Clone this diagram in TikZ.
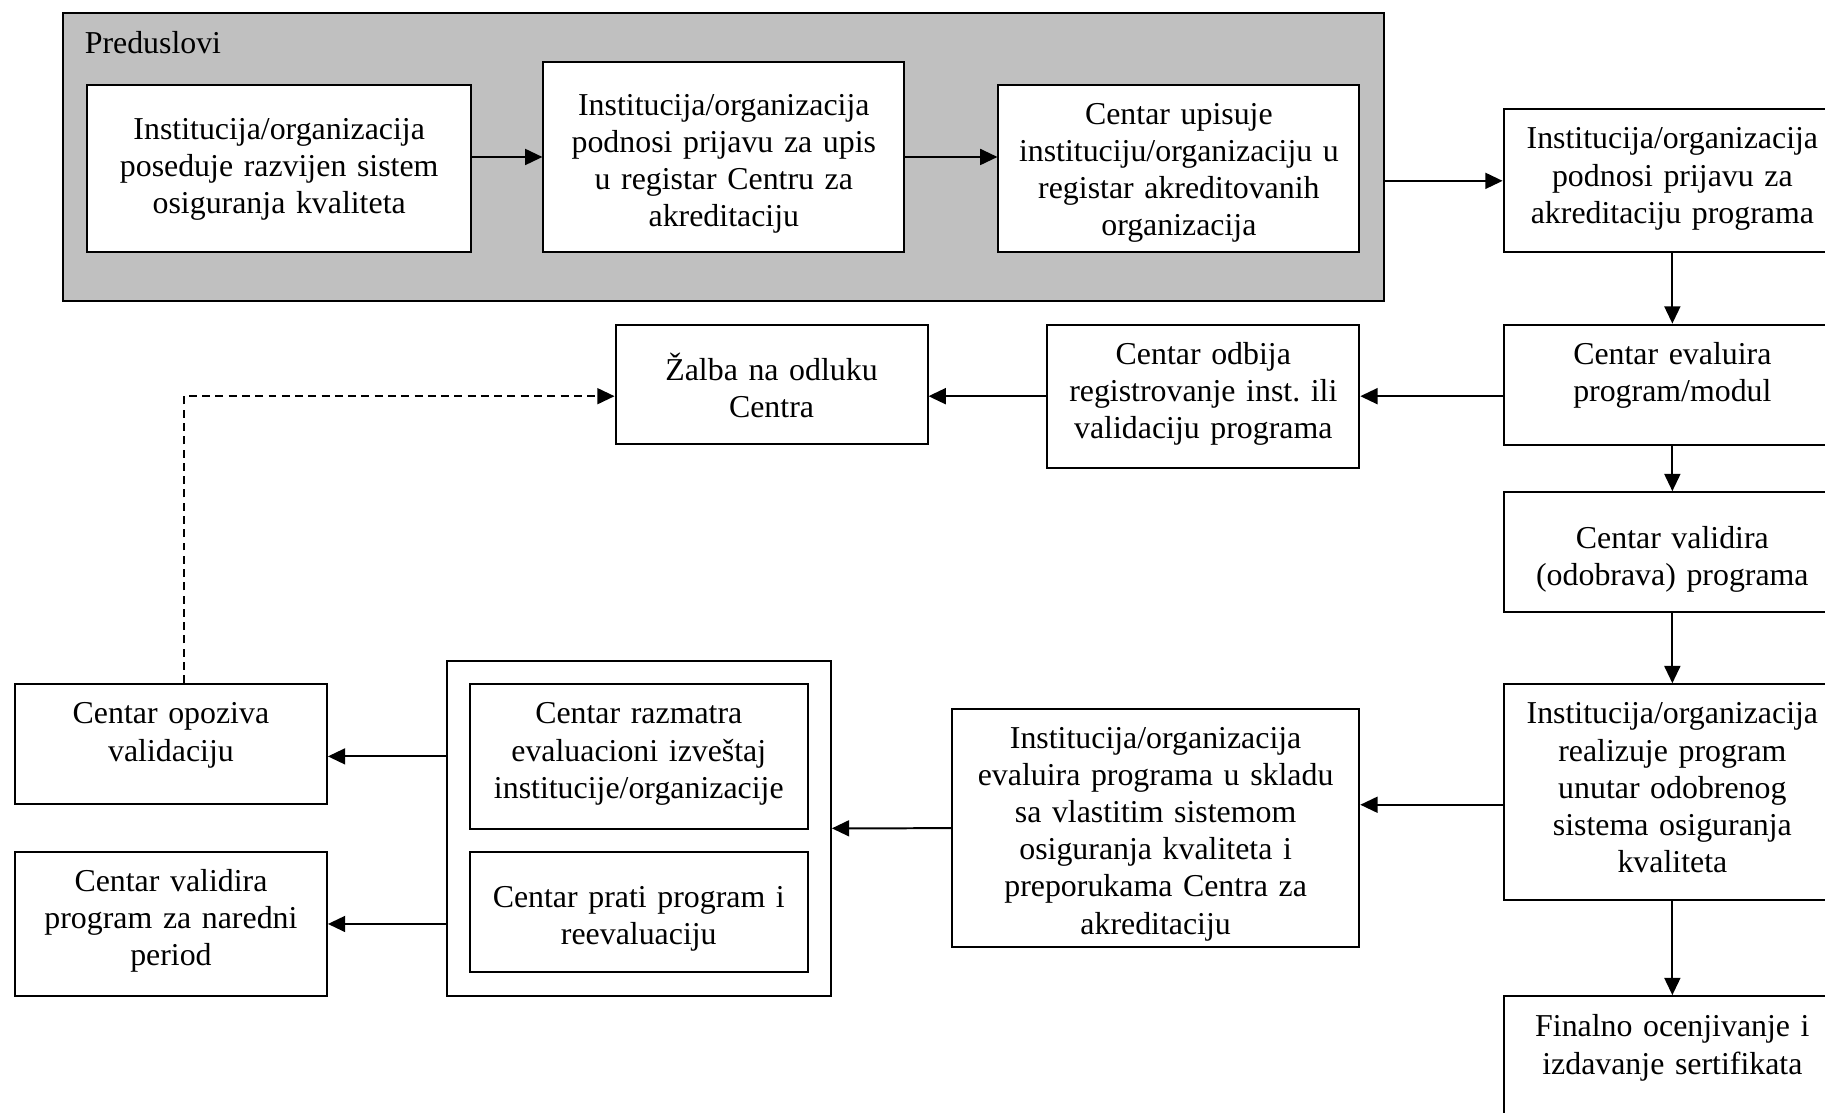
\documentclass[tikz,border=0pt]{standalone}
\usepackage{fontspec}
\setmainfont{Liberation Serif}
\usetikzlibrary{arrows.meta}
\definecolor{silver}{RGB}{192,192,192}
\frenchspacing

\begin{document}
\begin{tikzpicture}[>={Triangle[length=6.5pt,width=6pt]},
  box/.style={draw,fill=white,anchor=north west,inner sep=0pt,align=center,line width=0.75pt,
    font=\fontsize{12pt}{14pt}\selectfont,text height=0.524cm},
  flow/.style={->,line width=0.75pt}]
\useasboundingbox (0,0) rectangle (24.155,-14.727);
% preduslovi
\node[box,fill=silver,align=left,inner xsep=0.293cm,text width=16.899cm,text height=0.539cm,text depth=3.281cm] (pre) at (0.816,-0.154) {Preduslovi};
\node[box,text width=5.084cm,text height=0.724cm,text depth=1.494cm] (A1) at (1.140,-1.109) {Institucija/organizacija\\poseduje razvijen sistem\\osiguranja kvaliteta};
\node[box,text width=4.776cm,text height=0.709cm,text depth=1.818cm] (A2) at (7.179,-0.801) {Institucija/organizacija\\podnosi prijavu za upis\\u registar Centru za\\akreditaciju};
\node[box,text width=4.776cm,text depth=1.695cm] (A3) at (13.202,-1.109) {Centar upisuje\\instituciju/organizaciju u\\registar akreditovanih\\organizacija};
% desna kolona
\node[box,text width=4.467cm,text depth=1.371cm] (R1) at (19.888,-1.433) {Institucija/organizacija\\podnosi prijavu za\\akreditaciju programa};
\node[box,text width=4.467cm,text depth=1.063cm] (R2) at (19.888,-4.283) {Centar evaluira\\program/modul};
\node[box,text width=4.467cm,text height=0.739cm,text depth=0.847cm] (R3) at (19.888,-6.501) {Centar validira\\(odobrava) programa};
\node[box,text width=4.467cm,text depth=2.326cm] (R4) at (19.888,-9.043) {Institucija/organizacija\\realizuje program\\unutar odobrenog\\sistema osiguranja\\kvaliteta};
\node[box,text width=4.467cm,text height=0.539cm,text depth=1.772cm] (R5) at (19.888,-13.171) {Finalno ocenjivanje i\\izdavanje sertifikata};
% srednji red
\node[box,text width=4.129cm,text depth=1.371cm] (M1) at (13.849,-4.283) {Centar odbija\\registrovanje inst. ili\\validaciju programa};
\node[box,text width=4.129cm,text height=0.739cm,text depth=0.847cm] (M2) at (8.134,-4.283) {Žalba na odluku\\Centra};
% donji red
\node[box,text width=5.392cm,text depth=2.634cm] (B1) at (12.586,-9.366) {Institucija/organizacija\\evaluira programa u skladu\\sa vlastitim sistemom\\osiguranja kvaliteta i\\preporukama Centra za\\akreditaciju};
\node[box,minimum width=5.084cm,minimum height=4.437cm,text height=0pt] (K) at (5.900,-8.735) {};
\node[box,text width=4.467cm,text depth=1.386cm] (C1) at (6.208,-9.043) {Centar razmatra\\evaluacioni izveštaj\\institucije/organizacije};
\node[box,text width=4.467cm,text height=0.739cm,text depth=0.847cm] (C2) at (6.208,-11.261) {Centar prati program i\\reevaluaciju};
\node[box,text width=4.129cm,text depth=1.063cm] (L1) at (0.185,-9.043) {Centar opoziva\\validaciju};
\node[box,text width=4.129cm,text depth=1.386cm] (L2) at (0.185,-11.261) {Centar validira\\program za naredni\\period};

\coordinate (l1up) at ([xshift=0.17cm]L1.north);
\coordinate (r4out) at ([yshift=-0.17cm]R4.west);

\draw[flow] (A1.east |- A2) -- (A2);
\draw[flow] (A2) -- (A2 -| A3.west);
\draw[flow] (pre.east |- R1) -- (R1);
\draw[flow] (R1) -- (R2);
\draw[flow] (R2) -- (R3);
\draw[flow] (R3) -- (R4);
\draw[flow] (R4) -- (R5);
\draw[flow] (R2.west |- M1) -- (M1);
\draw[flow] (M1) -- (M1 -| M2.east);
\draw[flow,dash pattern=on 3pt off 2pt] (l1up) |- (M1 -| M2.west);
\draw[flow] (r4out) -- (r4out -| B1.east);
\draw[flow] (B1) -- (K);
\draw[flow] (K.west |- C1) -- (C1 -| L1.east);
\draw[flow] (K.west |- L2) -- (L2);
\end{tikzpicture}
\end{document}
